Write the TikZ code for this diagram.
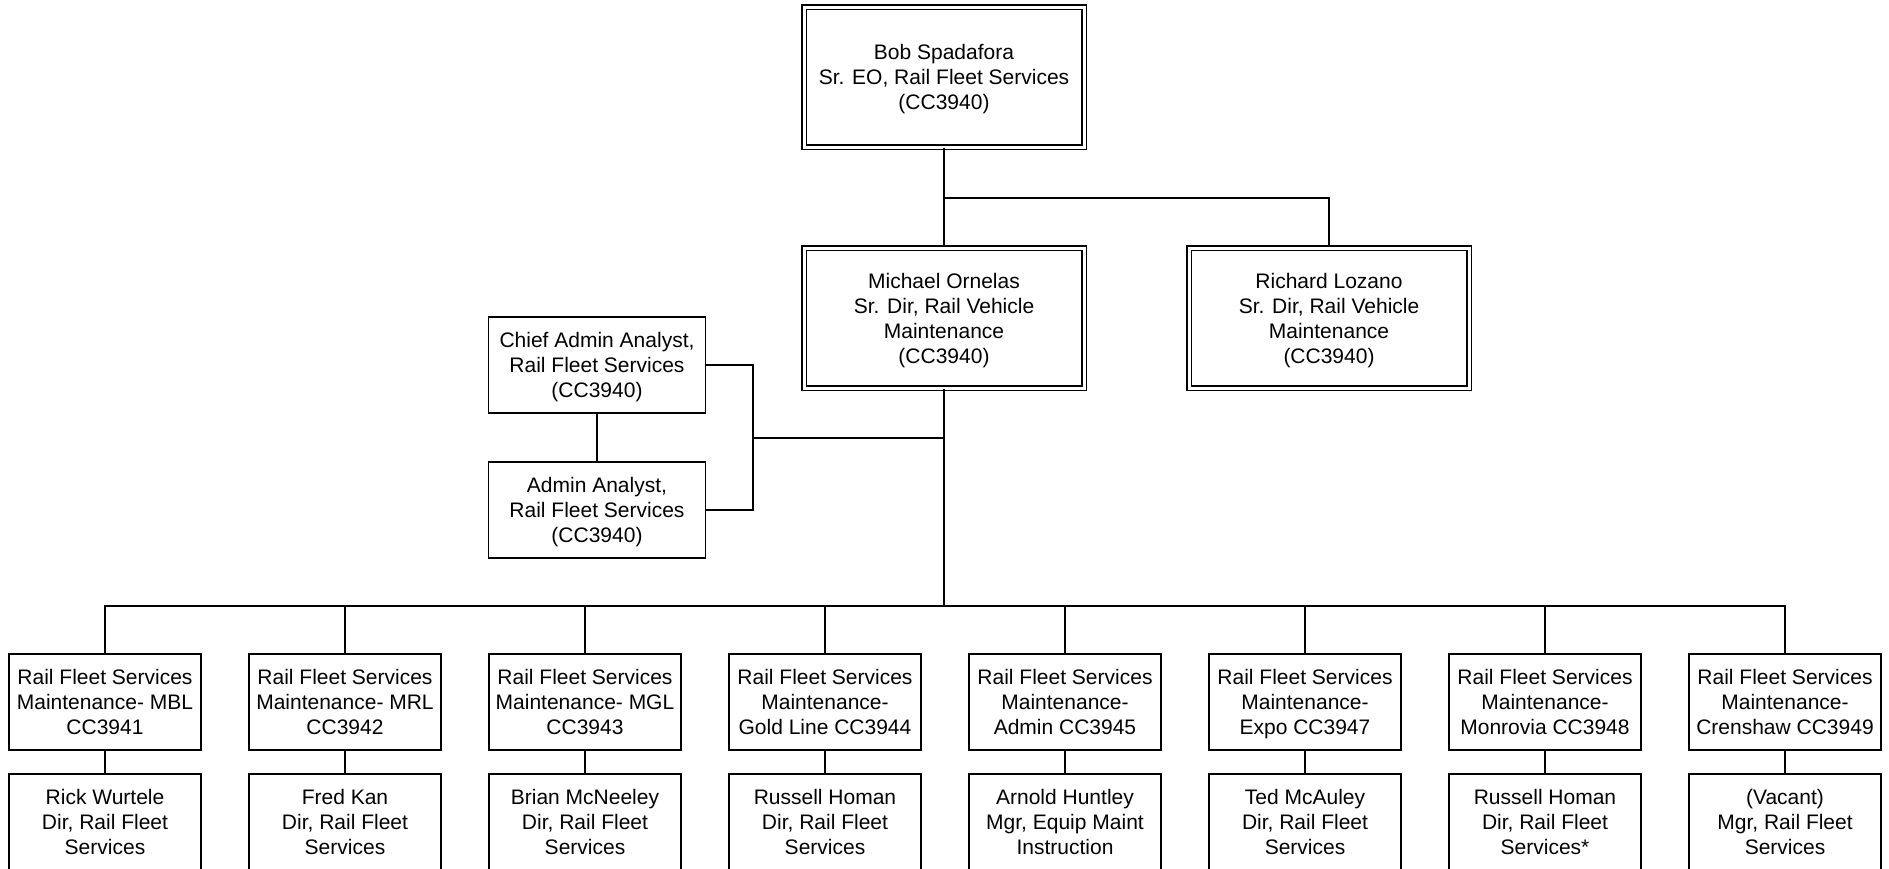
\documentclass[tikz,border=0pt]{standalone}
\usepackage{fontspec}
\setmainfont{Liberation Sans}
\newcommand\mystrut{\rule[-5pt]{0pt}{25pt}}
\begin{document}
\begin{tikzpicture}[x=1pt,y=-1pt,
  every node/.style={font=\fontsize{21}{25}\selectfont, align=center, inner sep=0pt},
  dbox/.style={draw, line width=1.4pt, double, double distance=3pt, minimum width=280pt, minimum height=140pt},
  sbox/.style={draw, line width=1.6pt, minimum width=217pt, minimum height=96pt},
  ubox/.style={draw, line width=1.6pt, minimum width=192pt, minimum height=96pt},
  conn/.style={line width=1.6pt}]
\clip (0,0) rectangle (1889,868);
\fill[white] (0,0) rectangle (1889,868);

\node[dbox] (bob) at (944,77) {\mystrut Bob Spadafora\\Sr. EO, Rail Fleet Services\\(CC3940)\mystrut};
\node[dbox] (mich) at (944,318) {\mystrut Michael Ornelas\\Sr. Dir, Rail Vehicle\\Maintenance\\(CC3940)\mystrut};
\node[dbox] (rich) at (1329,318) {\mystrut Richard Lozano\\Sr. Dir, Rail Vehicle\\Maintenance\\(CC3940)\mystrut};
\node[sbox] (chief) at (597,365) {\mystrut Chief Admin Analyst,\\Rail Fleet Services\\(CC3940)\mystrut};
\node[sbox] (admin) at (597,510) {\mystrut Admin Analyst,\\Rail Fleet Services\\(CC3940)\mystrut};

\foreach \i/\x/\dtxt/\ptxt in {
  1/105/{Rail Fleet Services\\Maintenance- MBL\\CC3941}/{Rick Wurtele\\Dir, Rail Fleet\\Services},
  2/345/{Rail Fleet Services\\Maintenance- MRL\\CC3942}/{Fred Kan\\Dir, Rail Fleet\\Services},
  3/585/{Rail Fleet Services\\Maintenance- MGL\\CC3943}/{Brian McNeeley\\Dir, Rail Fleet\\Services},
  4/825/{Rail Fleet Services\\Maintenance-\\Gold Line CC3944}/{Russell Homan\\Dir, Rail Fleet\\Services},
  5/1065/{Rail Fleet Services\\Maintenance-\\Admin CC3945}/{Arnold Huntley\\Mgr, Equip Maint\\Instruction},
  6/1305/{Rail Fleet Services\\Maintenance-\\Expo CC3947}/{Ted McAuley\\Dir, Rail Fleet\\Services},
  7/1545/{Rail Fleet Services\\Maintenance-\\Monrovia CC3948}/{Russell Homan\\Dir, Rail Fleet\\Services*},
  8/1785/{Rail Fleet Services\\Maintenance-\\Crenshaw CC3949}/{(Vacant)\\Mgr, Rail Fleet\\Services}} {
  \node[ubox] (d\i) at (\x,702) {\mystrut\dtxt\mystrut};
  \node[ubox] (p\i) at (\x,822) {\mystrut\ptxt\mystrut};
  \draw[conn] (d\i.south) -- (p\i.north);
}

\coordinate (topbar) at (944,198);
\coordinate (bar) at (944,606);
\coordinate (aj) at (753,438);

\draw[conn] (bob.south) -- (mich.north);
\draw[conn] (topbar) -| (rich.north);
\draw[conn] (mich.south) -- (bar);
\draw[conn] (d1.north) |- (bar) -| (d8.north);
\foreach \i in {2,...,7} { \draw[conn] (d\i.north) -- (d\i.north |- bar); }
\draw[conn] (chief.south) -- (admin.north);
\draw[conn] (chief.east) -| (aj) |- (admin.east);
\draw[conn] (aj) -- (aj -| mich.south);
\end{tikzpicture}
\end{document}
